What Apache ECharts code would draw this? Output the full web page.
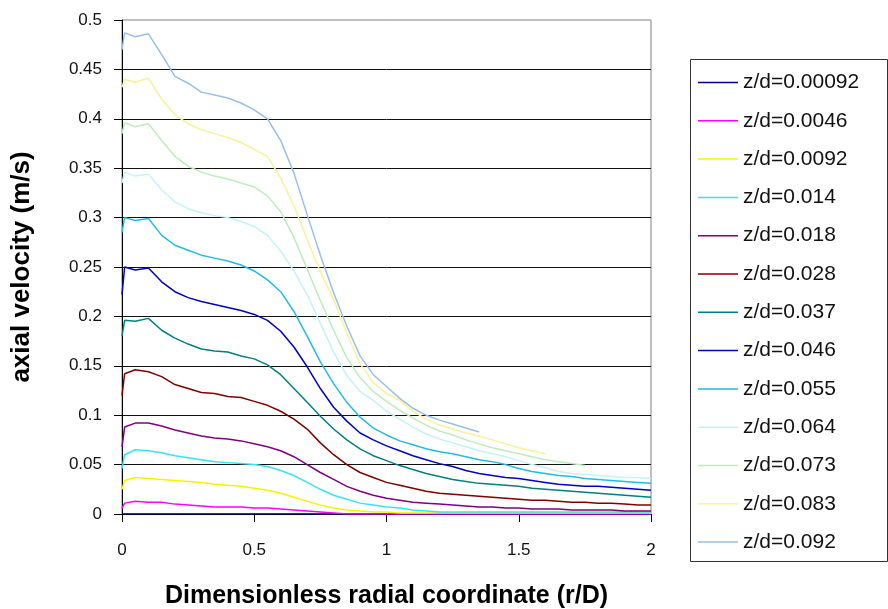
<!DOCTYPE html>
<html>
<head>
<meta charset="utf-8">
<script src="https://cdn.jsdelivr.net/npm/echarts@6/dist/echarts.min.js"></script>
<style>
  html, body { margin: 0; padding: 0; background: #fff; }
  #chart { width: 888px; height: 609px; }
</style>
</head>
<body>
<div id="chart"></div>
<script>
// Radial positions (r/D) shared by every profile
const radial = [0, 0.01, 0.05, 0.1, 0.15, 0.2, 0.25, 0.3, 0.35, 0.4, 0.45, 0.5, 0.55, 0.6, 0.65, 0.7,
  0.75, 0.8, 0.85, 0.9, 0.95, 1.0, 1.05, 1.1, 1.15, 1.2, 1.25, 1.3, 1.35, 1.4, 1.45, 1.5, 1.55, 1.6,
  1.65, 1.7, 1.75, 1.8, 1.85, 1.9, 1.95, 2.0];

// Axial velocity profiles (m/s), one per axial station z/d
const seriesNames = ['z/d=0.00092', 'z/d=0.0046', 'z/d=0.0092', 'z/d=0.014', 'z/d=0.018', 'z/d=0.028',
  'z/d=0.037', 'z/d=0.046', 'z/d=0.055', 'z/d=0.064', 'z/d=0.073', 'z/d=0.083', 'z/d=0.092'];

const vZ00092 = [0.000, 0.000, 0.000, 0.000, 0.000, 0.000, 0.000, 0.000, 0.000, 0.000, 0.000, 0.000, 0.000, 0.000,
  0.000, 0.000, 0.000, 0.000, 0.000, 0.000, 0.000, 0.000, 0.000, 0.000, 0.000, 0.000, 0.000, 0.000, 0.000, 0.000,
  0.000, 0.000, 0.000, 0.000, 0.000, 0.000, 0.000, 0.000, 0.000, 0.000, 0.000, 0.000];
const vZ0046 = [0.006, 0.011, 0.013, 0.012, 0.012, 0.010, 0.009, 0.008, 0.007, 0.007, 0.007, 0.006, 0.006, 0.005,
  0.004, 0.003, 0.002, 0.001, 0.000, 0.000, 0.000, 0.000, 0.000, 0.000, 0.000, 0.000, 0.000, 0.000, 0.000, 0.000,
  0.000, 0.000, 0.000, 0.000, 0.000, 0.000, 0.000, 0.000, 0.000, 0.000, 0.000, 0.000];
const vZ0092 = [0.025, 0.034, 0.037, 0.036, 0.035, 0.034, 0.033, 0.032, 0.030, 0.029, 0.028, 0.026, 0.024, 0.021,
  0.017, 0.013, 0.009, 0.006, 0.004, 0.003, 0.002, 0.002, 0.001, 0.001, 0.001, 0.001, 0.001, 0.001, 0.001, 0.001,
  0.001, 0.001, 0.001, 0.001, 0.001, 0.001, 0.001, 0.001, 0.001, 0.001, 0.001, 0.001];
const vZ014 = [0.046, 0.060, 0.065, 0.064, 0.062, 0.059, 0.057, 0.055, 0.053, 0.052, 0.051, 0.050, 0.048, 0.044,
  0.039, 0.032, 0.025, 0.019, 0.015, 0.011, 0.009, 0.007, 0.006, 0.004, 0.003, 0.002, 0.002, 0.002, 0.002, 0.002,
  0.002, 0.002, 0.002, 0.002, 0.002, 0.002, 0.002, 0.002, 0.002, 0.002, 0.002, 0.002];
const vZ018 = [0.068, 0.088, 0.092, 0.092, 0.089, 0.085, 0.082, 0.079, 0.077, 0.076, 0.074, 0.071, 0.068, 0.064,
  0.058, 0.050, 0.042, 0.035, 0.028, 0.023, 0.019, 0.016, 0.014, 0.012, 0.011, 0.010, 0.009, 0.008, 0.007, 0.007,
  0.006, 0.006, 0.005, 0.005, 0.005, 0.004, 0.004, 0.004, 0.004, 0.003, 0.003, 0.003];
const vZ028 = [0.120, 0.142, 0.146, 0.144, 0.139, 0.131, 0.127, 0.123, 0.122, 0.119, 0.118, 0.114, 0.110, 0.104,
  0.096, 0.086, 0.072, 0.060, 0.050, 0.042, 0.037, 0.032, 0.029, 0.026, 0.023, 0.021, 0.020, 0.019, 0.018, 0.017,
  0.016, 0.015, 0.014, 0.014, 0.013, 0.012, 0.012, 0.011, 0.011, 0.010, 0.009, 0.009];
const vZ037 = [0.180, 0.196, 0.195, 0.198, 0.186, 0.178, 0.172, 0.167, 0.165, 0.164, 0.160, 0.157, 0.151, 0.141,
  0.127, 0.113, 0.099, 0.086, 0.075, 0.066, 0.059, 0.054, 0.049, 0.045, 0.041, 0.038, 0.035, 0.033, 0.031, 0.030,
  0.029, 0.028, 0.026, 0.025, 0.024, 0.023, 0.022, 0.021, 0.020, 0.019, 0.018, 0.017];
const vZ046 = [0.222, 0.250, 0.247, 0.249, 0.235, 0.225, 0.219, 0.215, 0.212, 0.209, 0.206, 0.202, 0.196, 0.185,
  0.169, 0.149, 0.127, 0.108, 0.094, 0.082, 0.075, 0.069, 0.064, 0.059, 0.055, 0.051, 0.048, 0.044, 0.041, 0.039,
  0.037, 0.036, 0.034, 0.032, 0.030, 0.029, 0.028, 0.028, 0.027, 0.026, 0.025, 0.024];
const vZ055 = [0.285, 0.300, 0.297, 0.299, 0.282, 0.272, 0.267, 0.262, 0.259, 0.256, 0.252, 0.246, 0.237, 0.225,
  0.205, 0.180, 0.154, 0.132, 0.113, 0.098, 0.087, 0.080, 0.074, 0.070, 0.066, 0.063, 0.061, 0.058, 0.055, 0.053,
  0.050, 0.046, 0.043, 0.041, 0.039, 0.038, 0.036, 0.035, 0.034, 0.033, 0.032, 0.031];
const vZ064 = [0.335, 0.346, 0.342, 0.344, 0.328, 0.316, 0.309, 0.305, 0.302, 0.300, 0.296, 0.291, 0.282, 0.266,
  0.246, 0.222, 0.193, 0.164, 0.140, 0.124, 0.115, 0.104, 0.096, 0.088, 0.081, 0.076, 0.072, 0.068, 0.064, 0.061,
  0.058, 0.054, 0.050, 0.047, 0.043, 0.041, 0.040, 0.039, 0.038, 0.037, 0.037, 0.036];
const vZ073 = [0.385, 0.396, 0.392, 0.395, 0.378, 0.362, 0.352, 0.346, 0.342, 0.339, 0.335, 0.331, 0.322, 0.306,
  0.280, 0.248, 0.216, 0.186, 0.158, 0.138, 0.124, 0.114, 0.105, 0.097, 0.090, 0.084, 0.080, 0.075, 0.071, 0.067,
  0.064, 0.061, 0.058, 0.055, 0.053, 0.051, 0.049];
const vZ083 = [0.432, 0.440, 0.437, 0.441, 0.420, 0.404, 0.395, 0.389, 0.385, 0.381, 0.376, 0.369, 0.362, 0.340,
  0.312, 0.278, 0.245, 0.217, 0.183, 0.152, 0.133, 0.122, 0.115, 0.104, 0.096, 0.090, 0.086, 0.082, 0.079, 0.075,
  0.071, 0.067, 0.064, 0.061];
const vZ092 = [0.470, 0.487, 0.483, 0.486, 0.465, 0.443, 0.436, 0.427, 0.424, 0.421, 0.416, 0.409, 0.400, 0.378,
  0.345, 0.303, 0.262, 0.224, 0.190, 0.160, 0.141, 0.129, 0.117, 0.107, 0.100, 0.095, 0.091, 0.087, 0.083];

const seriesValues = [vZ00092, vZ0046, vZ0092, vZ014, vZ018, vZ028, vZ037, vZ046, vZ055, vZ064, vZ073, vZ083, vZ092];

const seriesColors = ['#000080', '#FF00FF', '#F5F500', '#33E6F2', '#800080', '#800000', '#008080', '#0000C8',
  '#22BBE6', '#C4F2F8', '#BDEDBD', '#F8F29A', '#99BFE8'];

const FONT = '"Liberation Sans", Arial, sans-serif';

const chart = echarts.init(document.getElementById('chart'), null, { renderer: 'canvas' });

const series = seriesNames.map((name, k) => ({
  name: name,
  type: 'line',
  symbol: 'none',
  smooth: false,
  data: seriesValues[k].map((v, i) => [radial[i], v]),
  lineStyle: { color: seriesColors[k], width: 1.5 },
  itemStyle: { color: seriesColors[k] },
  emphasis: { disabled: true }
}));

chart.setOption({
  animation: false,
  backgroundColor: '#ffffff',
  textStyle: { fontFamily: FONT },
  grid: {
    left: 122, right: 237, top: 20, bottom: 95,
    outerBoundsMode: 'none', containLabel: false,
    show: true, borderColor: '#808080', borderWidth: 1, backgroundColor: 'transparent'
  },
  xAxis: {
    type: 'value', min: 0, max: 2, interval: 0.5,
    axisLine: { show: true, onZero: false, lineStyle: { color: '#000', width: 1 } },
    axisTick: { show: true, inside: false, length: 8, lineStyle: { color: '#000' } },
    axisLabel: { color: '#111', fontSize: 17, fontFamily: FONT, margin: 28 },
    splitLine: { show: false },
    name: 'Dimensionless radial coordinate (r/D)',
    nameLocation: 'middle', nameGap: 70,
    nameTextStyle: { color: '#000', fontSize: 25, fontWeight: 'bold', fontFamily: FONT }
  },
  yAxis: {
    type: 'value', min: 0, max: 0.5, interval: 0.05,
    axisLine: { show: true, lineStyle: { color: '#000', width: 1 } },
    axisTick: { show: true, inside: false, length: 8, lineStyle: { color: '#000' } },
    axisLabel: { color: '#111', fontSize: 17, fontFamily: FONT, margin: 20 },
    splitLine: { show: true, showMaxLine: false, lineStyle: { color: '#111', width: 1 } },
    name: 'axial velocity (m/s)',
    nameLocation: 'middle', nameGap: 87,
    nameTextStyle: { color: '#000', fontSize: 26, fontWeight: 'bold', fontFamily: FONT }
  },
  legend: {
    orient: 'vertical',
    left: 688, top: 57,
    padding: [15, 10, 8, 10],
    icon: 'rect',
    itemWidth: 40, itemHeight: 1.5, itemGap: 17.3,
    selectedMode: false,
    textStyle: { color: '#111', fontSize: 21, lineHeight: 20, fontFamily: FONT },
    data: seriesNames
  },
  graphic: [{
    type: 'rect', left: 688, top: 57, z: 100, silent: true,
    shape: { width: 197, height: 502 },
    style: { fill: 'none', stroke: '#333', lineWidth: 1 }
  }],
  series: series
});
</script>
</body>
</html>
